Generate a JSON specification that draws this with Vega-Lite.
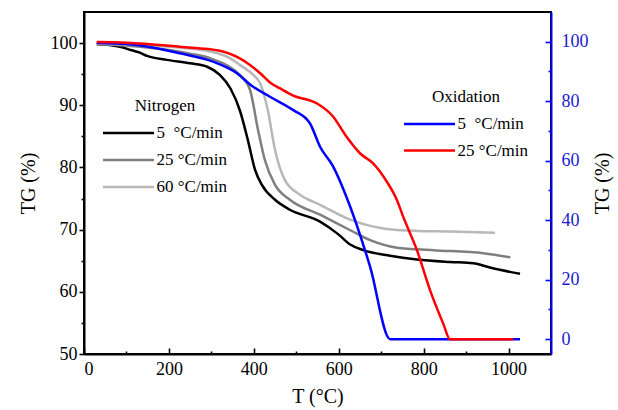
{
  "$schema": "https://vega.github.io/schema/vega-lite/v6.json",
  "width": 467,
  "height": 342,
  "autosize": {"type": "none"},
  "padding": {"left": 84, "top": 12, "right": 67, "bottom": 56},
  "background": "white",
  "config": {
    "font": "Liberation Serif",
    "view": {"stroke": "black", "strokeWidth": 2},
    "axis": {"grid": false, "labelFont": "Liberation Serif", "titleFont": "Liberation Serif", "titleFontWeight": "normal", "labelFontSize": 18, "titleFontSize": 20, "domainWidth": 2, "tickWidth": 1.6},
    "legend": {"labelFont": "Liberation Serif", "titleFont": "Liberation Serif", "titleFontWeight": "normal", "labelFontSize": 17, "titleFontSize": 17}
  },
  "datasets": {
    "nitrogen": [
      {"rate": "5 \u00a0°C/min", "T": 30, "TG": 99.8}, {"rate": "5 \u00a0°C/min", "T": 60, "TG": 99.7}, {"rate": "5 \u00a0°C/min", "T": 85, "TG": 99.4}, {"rate": "5 \u00a0°C/min", "T": 110, "TG": 98.9}, {"rate": "5 \u00a0°C/min", "T": 130, "TG": 98.5}, {"rate": "5 \u00a0°C/min", "T": 150, "TG": 97.9}, {"rate": "5 \u00a0°C/min", "T": 195, "TG": 97.3}, {"rate": "5 \u00a0°C/min", "T": 250, "TG": 96.75}, {"rate": "5 \u00a0°C/min", "T": 290, "TG": 96.2}, {"rate": "5 \u00a0°C/min", "T": 320, "TG": 94.9}, {"rate": "5 \u00a0°C/min", "T": 345, "TG": 92.7}, {"rate": "5 \u00a0°C/min", "T": 367, "TG": 89.2}, {"rate": "5 \u00a0°C/min", "T": 386, "TG": 84.4}, {"rate": "5 \u00a0°C/min", "T": 403, "TG": 79.6}, {"rate": "5 \u00a0°C/min", "T": 419, "TG": 77.2}, {"rate": "5 \u00a0°C/min", "T": 450, "TG": 74.8}, {"rate": "5 \u00a0°C/min", "T": 485, "TG": 73.2}, {"rate": "5 \u00a0°C/min", "T": 556, "TG": 71.3}, {"rate": "5 \u00a0°C/min", "T": 600, "TG": 69.2}, {"rate": "5 \u00a0°C/min", "T": 627, "TG": 67.6}, {"rate": "5 \u00a0°C/min", "T": 658, "TG": 66.7}, {"rate": "5 \u00a0°C/min", "T": 721, "TG": 65.8}, {"rate": "5 \u00a0°C/min", "T": 784, "TG": 65.2}, {"rate": "5 \u00a0°C/min", "T": 862, "TG": 64.8}, {"rate": "5 \u00a0°C/min", "T": 917, "TG": 64.6}, {"rate": "5 \u00a0°C/min", "T": 956, "TG": 63.9}, {"rate": "5 \u00a0°C/min", "T": 1027, "TG": 62.9},
      {"rate": "25 °C/min", "T": 30, "TG": 99.9}, {"rate": "25 °C/min", "T": 100, "TG": 99.6}, {"rate": "25 °C/min", "T": 200, "TG": 98.9}, {"rate": "25 °C/min", "T": 250, "TG": 98.3}, {"rate": "25 °C/min", "T": 300, "TG": 97.5}, {"rate": "25 °C/min", "T": 340, "TG": 96.3}, {"rate": "25 °C/min", "T": 367, "TG": 94.9}, {"rate": "25 °C/min", "T": 391, "TG": 92.5}, {"rate": "25 °C/min", "T": 410, "TG": 86.0}, {"rate": "25 °C/min", "T": 426, "TG": 81.2}, {"rate": "25 °C/min", "T": 450, "TG": 77.2}, {"rate": "25 °C/min", "T": 485, "TG": 74.8}, {"rate": "25 °C/min", "T": 556, "TG": 72.4}, {"rate": "25 °C/min", "T": 627, "TG": 69.9}, {"rate": "25 °C/min", "T": 674, "TG": 68.3}, {"rate": "25 °C/min", "T": 737, "TG": 67.1}, {"rate": "25 °C/min", "T": 823, "TG": 66.7}, {"rate": "25 °C/min", "T": 941, "TG": 66.2}, {"rate": "25 °C/min", "T": 1004, "TG": 65.55},
      {"rate": "60 °C/min", "T": 30, "TG": 99.9}, {"rate": "60 °C/min", "T": 100, "TG": 99.8}, {"rate": "60 °C/min", "T": 200, "TG": 99.4}, {"rate": "60 °C/min", "T": 300, "TG": 98.6}, {"rate": "60 °C/min", "T": 340, "TG": 97.7}, {"rate": "60 °C/min", "T": 367, "TG": 96.5}, {"rate": "60 °C/min", "T": 400, "TG": 94.8}, {"rate": "60 °C/min", "T": 415, "TG": 93.5}, {"rate": "60 °C/min", "T": 433, "TG": 89.2}, {"rate": "60 °C/min", "T": 450, "TG": 82.8}, {"rate": "60 °C/min", "T": 473, "TG": 78.0}, {"rate": "60 °C/min", "T": 509, "TG": 75.6}, {"rate": "60 °C/min", "T": 556, "TG": 74.0}, {"rate": "60 °C/min", "T": 627, "TG": 71.6}, {"rate": "60 °C/min", "T": 705, "TG": 70.2}, {"rate": "60 °C/min", "T": 784, "TG": 69.8}, {"rate": "60 °C/min", "T": 862, "TG": 69.7}, {"rate": "60 °C/min", "T": 968, "TG": 69.5}
    ],
    "oxidation": [
      {"rate": "5 \u00a0°C/min", "T": 30, "TG": 99.6}, {"rate": "5 \u00a0°C/min", "T": 100, "TG": 99.2}, {"rate": "5 \u00a0°C/min", "T": 148, "TG": 98.4}, {"rate": "5 \u00a0°C/min", "T": 226, "TG": 96.1}, {"rate": "5 \u00a0°C/min", "T": 304, "TG": 93.3}, {"rate": "5 \u00a0°C/min", "T": 360, "TG": 89.4}, {"rate": "5 \u00a0°C/min", "T": 395, "TG": 85.2}, {"rate": "5 \u00a0°C/min", "T": 438, "TG": 81.5}, {"rate": "5 \u00a0°C/min", "T": 493, "TG": 77.0}, {"rate": "5 \u00a0°C/min", "T": 532, "TG": 72.6}, {"rate": "5 \u00a0°C/min", "T": 556, "TG": 64.7}, {"rate": "5 \u00a0°C/min", "T": 587, "TG": 58.0}, {"rate": "5 \u00a0°C/min", "T": 618, "TG": 47.9}, {"rate": "5 \u00a0°C/min", "T": 674, "TG": 24.3}, {"rate": "5 \u00a0°C/min", "T": 721, "TG": 0}, {"rate": "5 \u00a0°C/min", "T": 1027, "TG": 0},
      {"rate": "25 °C/min", "T": 30, "TG": 99.9}, {"rate": "25 °C/min", "T": 100, "TG": 99.7}, {"rate": "25 °C/min", "T": 226, "TG": 98.3}, {"rate": "25 °C/min", "T": 320, "TG": 97.0}, {"rate": "25 °C/min", "T": 367, "TG": 94.4}, {"rate": "25 °C/min", "T": 391, "TG": 92.2}, {"rate": "25 °C/min", "T": 415, "TG": 89.4}, {"rate": "25 °C/min", "T": 438, "TG": 86.3}, {"rate": "25 °C/min", "T": 462, "TG": 84.3}, {"rate": "25 °C/min", "T": 493, "TG": 81.9}, {"rate": "25 °C/min", "T": 548, "TG": 79.3}, {"rate": "25 °C/min", "T": 587, "TG": 74.8}, {"rate": "25 °C/min", "T": 618, "TG": 68.1}, {"rate": "25 °C/min", "T": 650, "TG": 62.5}, {"rate": "25 °C/min", "T": 681, "TG": 59.1}, {"rate": "25 °C/min", "T": 713, "TG": 53.0}, {"rate": "25 °C/min", "T": 737, "TG": 46.8}, {"rate": "25 °C/min", "T": 752, "TG": 41.1}, {"rate": "25 °C/min", "T": 784, "TG": 30.0}, {"rate": "25 °C/min", "T": 815, "TG": 16.5}, {"rate": "25 °C/min", "T": 846, "TG": 5.3}, {"rate": "25 °C/min", "T": 862, "TG": 0}, {"rate": "25 °C/min", "T": 1011, "TG": 0}
    ]
  },
  "layer": [
    {
      "data": {"name": "nitrogen"},
      "mark": {"type": "line", "strokeWidth": 2.5, "interpolate": "monotone"},
      "encoding": {
        "x": {"field": "T", "type": "quantitative", "scale": {"domain": [0, 1100], "nice": false, "zero": false},
          "axis": {"title": "T (°C)", "format": "d", "values": [0, 100, 200, 300, 400, 500, 600, 700, 800, 900, 1000], "labelExpr": "datum.value % 200 == 0 ? datum.label : ''", "tickSize": {"condition": {"test": "datum.value % 200 == 0", "value": -6}, "value": -3}, "labelPadding": 12, "domainColor": "black", "tickColor": "black", "labelColor": "black", "titleColor": "black", "titlePadding": 8}},
        "y": {"field": "TG", "type": "quantitative", "scale": {"domain": [50, 105], "nice": false, "zero": false},
          "axis": {"title": "TG (%)", "values": [50, 55, 60, 65, 70, 75, 80, 85, 90, 95, 100], "labelExpr": "datum.value % 10 == 0 ? datum.label : ''", "tickSize": {"condition": {"test": "datum.value % 10 == 0", "value": 5}, "value": 3}, "labelPadding": 2, "domainColor": "black", "tickColor": "black", "labelColor": "black", "titleColor": "black", "titlePadding": 12}},
        "color": {"field": "rate", "type": "nominal", "sort": null,
          "scale": {"domain": ["5 \u00a0°C/min", "25 °C/min", "60 °C/min"], "range": ["#000000", "#7f7f7f", "#b8b8b8"]},
          "legend": {"title": "Nitrogen", "orient": "none", "legendX": 19, "legendY": 86, "symbolType": "M-3,0H3", "symbolSize": 289, "symbolStrokeWidth": 2.5, "symbolOffset": 15.5, "labelOffset": 18, "rowPadding": 9, "titleAnchor": "middle", "titlePadding": 8, "padding": 0, "labelColor": "black", "titleColor": "black"}}
      }
    },
    {
      "data": {"name": "oxidation"},
      "mark": {"type": "line", "strokeWidth": 2.5, "interpolate": "monotone"},
      "encoding": {
        "x": {"field": "T", "type": "quantitative"},
        "y": {"field": "TG", "type": "quantitative", "scale": {"domain": [-5, 110], "nice": false, "zero": false},
          "axis": {"orient": "right", "title": "TG (%)", "titleAngle": -90, "values": [0, 10, 20, 30, 40, 50, 60, 70, 80, 90, 100], "labelExpr": "datum.value % 20 == 0 ? datum.label : ''", "tickSize": {"condition": {"test": "datum.value % 20 == 0", "value": -6}, "value": -3}, "labelPadding": 16, "domainColor": "#0000ff", "tickColor": "#0000ff", "labelColor": "#1a1ad0", "titleColor": "black", "titlePadding": 24}},
        "color": {"field": "rate", "type": "nominal", "sort": null,
          "scale": {"domain": ["5 \u00a0°C/min", "25 °C/min"], "range": ["#0000ff", "#ff0000"]},
          "legend": {"title": "Oxidation", "orient": "none", "legendX": 320, "legendY": 77, "symbolType": "M-3,0H3", "symbolSize": 289, "symbolStrokeWidth": 2.5, "symbolOffset": 15.5, "labelOffset": 18, "rowPadding": 8.5, "titleAnchor": "middle", "titlePadding": 8, "padding": 0, "labelColor": "black", "titleColor": "black"}}
      }
    }
  ],
  "resolve": {"scale": {"y": "independent", "color": "independent"}, "legend": {"color": "independent"}}
}
